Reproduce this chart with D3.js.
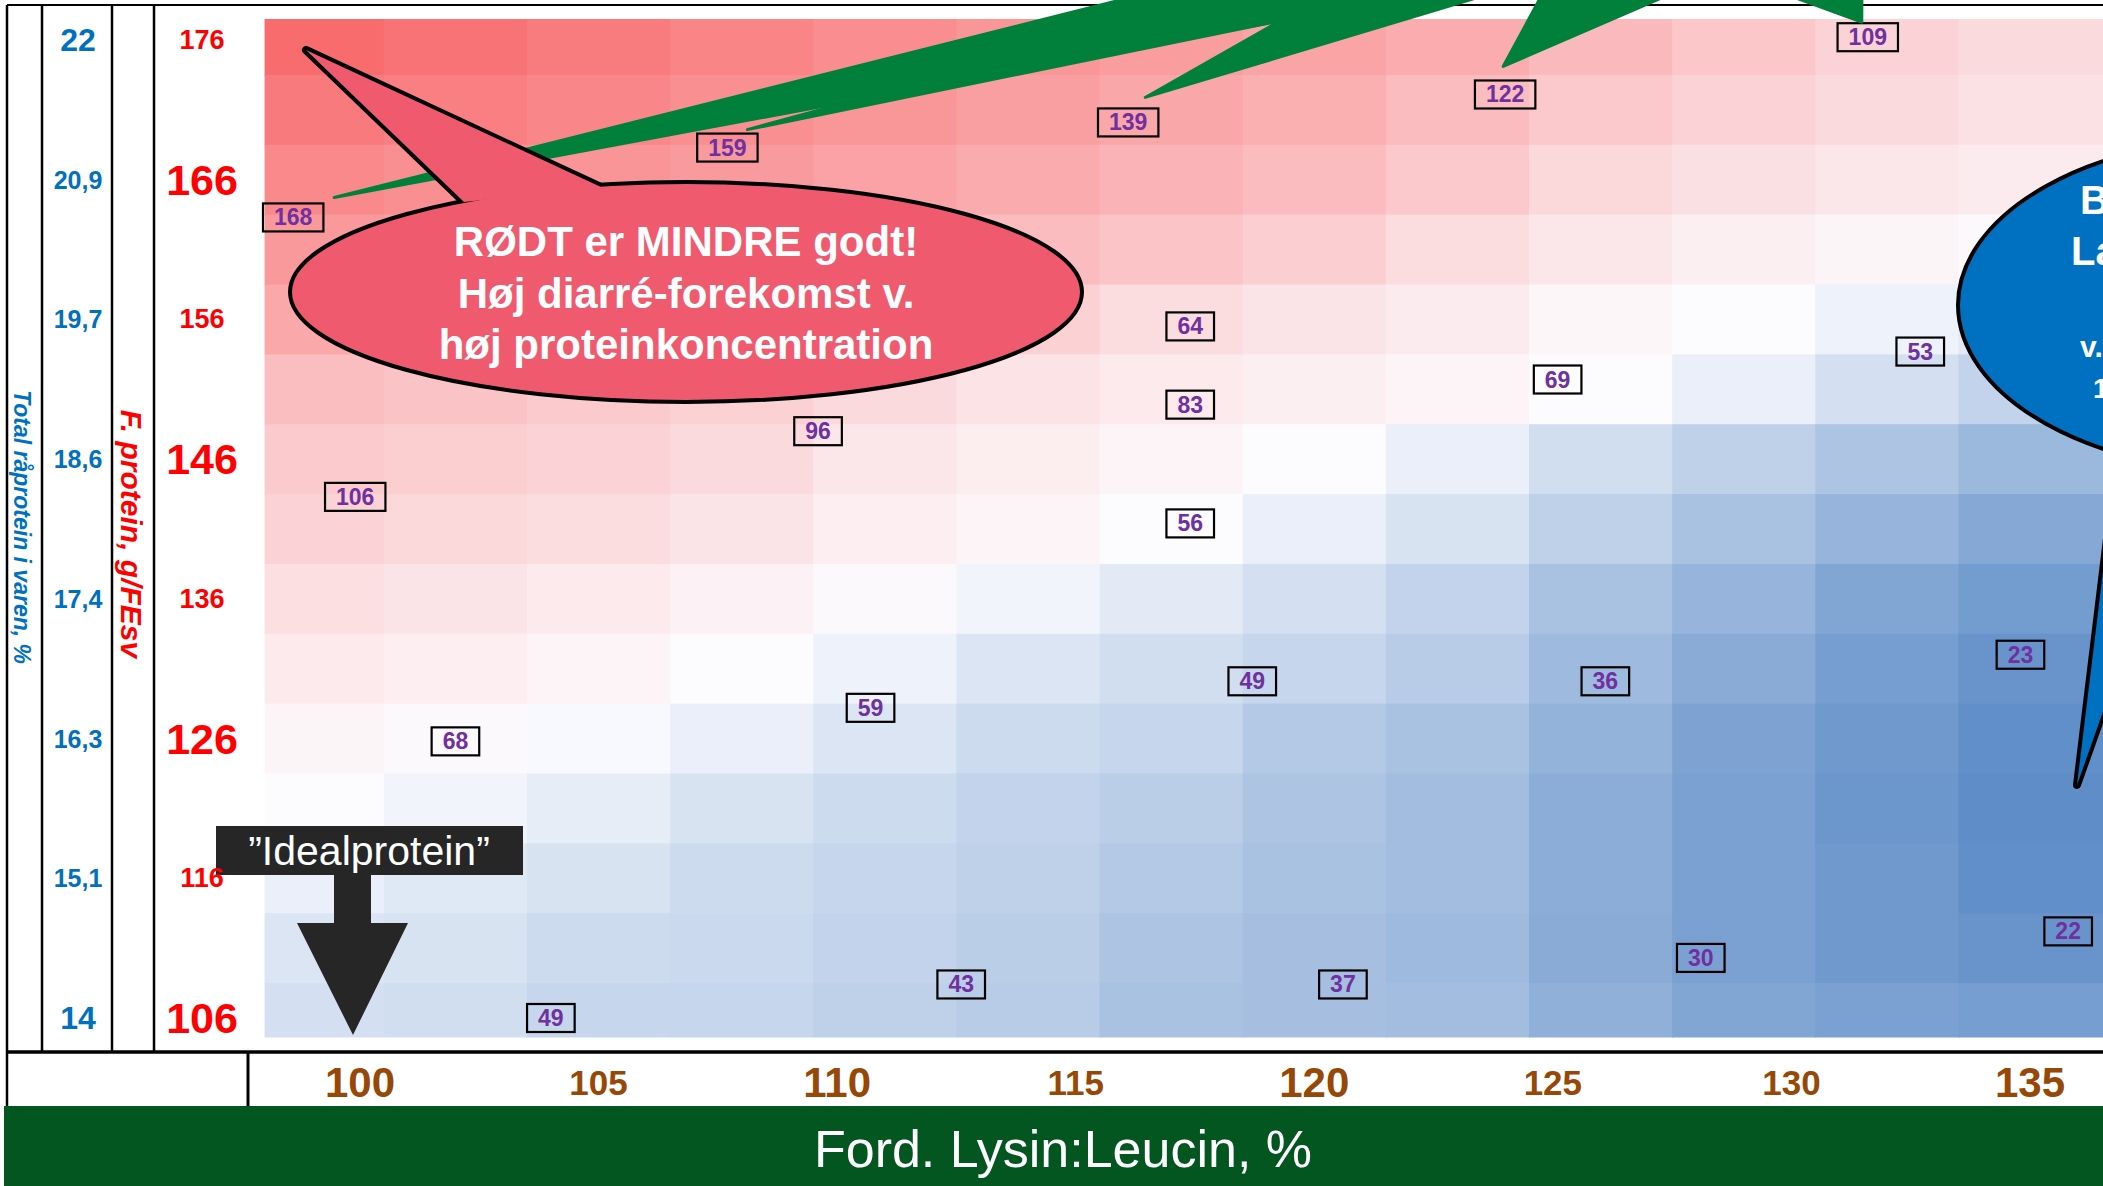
<!DOCTYPE html>
<html lang="da">
<head>
    <meta charset="UTF-8">
    <title>Diarré-forekomst: Lysin:Leucin vs. F. protein</title>
    <script src="https://cdnjs.cloudflare.com/ajax/libs/d3/7.8.5/d3.min.js"></script>
    <style>
        body { margin: 0; padding: 0; background: #fff; }
        svg { display: block; font-family: "Liberation Sans", Arial, Helvetica, sans-serif; }
    </style>
</head>
<body>
    <div id="chart"></div>
    <script>
        // x axis: Ford. Lysin:Leucin, %
        const lysTicks = [100, 105, 110, 115, 120, 125, 130, 135];
        const lysBigTicks = [100, 110, 120, 135];

        // y axes: F. protein (g/FEsv) and total raw protein (%)
        const protTicks = [176, 166, 156, 146, 136, 126, 116, 106];
        const protBigTicks = [166, 146, 126, 106];
        const rawProtLabels = ["22", "20,9", "19,7", "18,6", "17,4", "16,3", "15,1", "14"];
        const rawProtBig = ["22", "14"];

        // background grid (colour scale values)
        const heatLys = [99, 102, 105, 108, 111, 114, 117, 120, 123, 126, 129, 132, 135];
        const heatProt = [176, 171, 166, 161, 156, 151, 146, 141, 136, 131, 126, 121, 116, 111, 106];
        const heatValues = [
            [168, 163, 157, 150, 144, 138, 133, 128, 122, 112, 103, 95, 89],
            [158, 154, 149, 143, 138, 132, 126, 120, 111, 102, 95, 89, 84],
            [147, 143, 139, 134, 129, 123, 117, 111, 102, 91, 85, 80, 77],
            [136, 132, 128, 123, 117, 111, 104, 97, 88, 80, 74, 70, 67],
            [125, 121, 116, 111, 104, 96, 88, 82, 77, 69, 65, 61, 58],
            [110, 106, 101, 96, 89, 83, 78, 74, 71, 65, 60, 54, 49],
            [101, 98, 95, 89, 80, 76, 71, 66, 60, 53, 48, 43, 38],
            [95, 91, 88, 82, 75, 71, 65, 60, 55, 48, 42, 37, 32],
            [86, 82, 78, 73, 67, 62, 58, 54, 49, 42, 37, 31, 27],
            [78, 75, 71, 66, 61, 56, 53, 50, 46, 39, 33, 28, 24],
            [70, 67, 64, 60, 56, 52, 50, 45, 42, 36, 30, 26, 22],
            [65, 62, 59, 55, 52, 49, 47, 43, 40, 34, 29, 25, 21],
            [60, 57, 55, 52, 50, 48, 45, 42, 40, 34, 29, 26, 22],
            [56, 55, 52, 51, 49, 47, 43, 41, 39, 33, 29, 26, 24],
            [54, 53, 50, 50, 48, 46, 42, 41, 40, 35, 31, 29, 28]
        ];

        // observed values in boxes
        const pointLys = [98.6, 107.7, 116.1, 124.0, 131.6, 117.4, 117.4, 117.4, 109.6, 99.9, 125.1,
                          132.7, 102.0, 110.7, 118.7, 126.1, 134.8, 104.0, 112.6, 120.6, 128.1, 135.8];
        const pointProt = [163.3, 168.3, 170.1, 172.1, 176.2, 155.5, 149.9, 141.4, 148.0, 143.3, 151.7,
                           153.7, 125.8, 128.2, 130.1, 130.1, 132.0, 106.0, 108.4, 108.4, 110.3, 112.2];
        const pointValue = [168, 159, 139, 122, 109, 64, 83, 56, 96, 106, 69,
                            53, 68, 59, 49, 36, 23, 49, 43, 37, 30, 22];

        const width = 2103;
        const height = 1186;

        const svg = d3.select("#chart")
            .append("svg")
            .attr("width", width)
            .attr("height", height);

        const x = d3.scaleLinear().domain([100, 135]).range([360, 2030]);
        const y = d3.scaleLinear().domain([106, 176]).range([1018, 40]);
        const color = d3.scaleLinear()
            .domain([20, 65, 170])
            .range(["#5A8AC6", "#FCFCFF", "#F8696B"])
            .clamp(true);

        // heatmap area
        const hmLeft = x(98), hmTop = y(177.5), hmBottom = y(104.6);
        svg.append("clipPath").attr("id", "hm-clip")
            .append("rect")
            .attr("x", hmLeft).attr("y", hmTop)
            .attr("width", width - hmLeft).attr("height", hmBottom - hmTop);

        const cells = [];
        heatProt.forEach((p, i) => heatLys.forEach((l, j) => cells.push({ l, p, v: heatValues[i][j], last: j === heatLys.length - 1 })));

        svg.append("g")
            .attr("clip-path", "url(#hm-clip)")
            .selectAll("rect")
            .data(cells)
            .join("rect")
            .attr("x", d => x(d.l - 1.5))
            .attr("y", d => y(d.p + 2.5))
            .attr("width", d => (d.last ? width : x(d.l + 1.5)) - x(d.l - 1.5) + 1)
            .attr("height", d => y(d.p - 2.5) - y(d.p + 2.5) + 1)
            .attr("fill", d => color(d.v));

        // table frame
        const frame = svg.append("g").attr("stroke", "#000");
        frame.append("line").attr("x1", 7).attr("x2", width).attr("y1", 5).attr("y2", 5).attr("stroke-width", 2);
        [7, 42, 112, 154].forEach(v => {
            frame.append("line").attr("x1", v).attr("x2", v).attr("y1", 5).attr("y2", 1052).attr("stroke-width", 2.5);
        });
        frame.append("line").attr("x1", 7).attr("x2", width).attr("y1", 1052).attr("y2", 1052).attr("stroke-width", 3.5);
        frame.append("line").attr("x1", 7).attr("x2", 7).attr("y1", 1052).attr("y2", 1106).attr("stroke-width", 2.5);
        frame.append("line").attr("x1", 248).attr("x2", 248).attr("y1", 1052).attr("y2", 1106).attr("stroke-width", 3);

        // green title band
        svg.append("rect")
            .attr("x", 4).attr("y", 1106)
            .attr("width", width - 4).attr("height", height - 1106)
            .attr("fill", "#03561F");
        svg.append("text")
            .attr("x", 1063).attr("y", 1167)
            .attr("text-anchor", "middle")
            .attr("fill", "#fff")
            .attr("font-size", 52)
            .text("Ford. Lysin:Leucin, %");

        // "Idealprotein" marker at Lys:Leu 100 (under the tick labels)
        const ideal = svg.append("g");
        ideal.append("rect").attr("x", 216).attr("y", 826).attr("width", 307).attr("height", 49).attr("fill", "#262626");
        ideal.append("text")
            .attr("x", 369).attr("y", 865)
            .attr("text-anchor", "middle")
            .attr("fill", "#fff")
            .attr("font-size", 41)
            .text("”Idealprotein”");
        ideal.append("path")
            .attr("d", "M334,874L371,874L371,923L408,923L353,1035L297,923L334,923Z")
            .attr("fill", "#262626");

        // y tick labels
        svg.append("g").selectAll("text")
            .data(protTicks)
            .join("text")
            .attr("x", 202)
            .attr("y", d => y(d))
            .attr("text-anchor", "middle")
            .attr("dominant-baseline", "central")
            .attr("fill", "#FF0000")
            .attr("font-weight", "bold")
            .attr("font-size", d => protBigTicks.includes(d) ? 43 : 27)
            .text(d => d);

        svg.append("g").selectAll("text")
            .data(rawProtLabels)
            .join("text")
            .attr("x", 78)
            .attr("y", (d, i) => y(protTicks[i]))
            .attr("text-anchor", "middle")
            .attr("dominant-baseline", "central")
            .attr("fill", "#0070C0")
            .attr("font-weight", "bold")
            .attr("font-size", d => rawProtBig.includes(d) ? 32 : 25)
            .text(d => d);

        // axis titles (rotated)
        svg.append("text")
            .attr("transform", "translate(22,527) rotate(90)")
            .attr("text-anchor", "middle")
            .attr("dominant-baseline", "central")
            .attr("fill", "#0070C0")
            .attr("font-weight", "bold")
            .attr("font-style", "italic")
            .attr("font-size", 23)
            .text("Total råprotein i varen, %");

        svg.append("text")
            .attr("transform", "translate(131,534) rotate(90)")
            .attr("text-anchor", "middle")
            .attr("dominant-baseline", "central")
            .attr("fill", "#FF0000")
            .attr("font-weight", "bold")
            .attr("font-style", "italic")
            .attr("font-size", 30)
            .text("F. protein, g/FEsv");

        // x tick labels
        svg.append("g").selectAll("text")
            .data(lysTicks)
            .join("text")
            .attr("x", d => x(d))
            .attr("y", 1082)
            .attr("text-anchor", "middle")
            .attr("dominant-baseline", "central")
            .attr("fill", "#974706")
            .attr("font-weight", "bold")
            .attr("font-size", d => lysBigTicks.includes(d) ? 42 : 35)
            .text(d => d);

        // boxed values
        const pts = pointValue.map((v, i) => ({ v, l: pointLys[i], p: pointProt[i] }));
        const halfW = d => String(d.v).length * 6.4 + 11;
        const box = svg.append("g").selectAll("g")
            .data(pts)
            .join("g")
            .attr("transform", d => `translate(${x(d.l)},${y(d.p)})`);
        box.append("rect")
            .attr("x", d => -halfW(d))
            .attr("y", -14)
            .attr("width", d => 2 * halfW(d))
            .attr("height", 28)
            .attr("fill", "none")
            .attr("stroke", "#000")
            .attr("stroke-width", 2.2);
        box.append("text")
            .attr("text-anchor", "middle")
            .attr("dominant-baseline", "central")
            .attr("fill", "#7030A0")
            .attr("font-weight", "bold")
            .attr("font-size", 23)
            .text(d => d.v);

        // green spikes from an off-picture callout to the top values
        const spikes = [
            { i: 0, dx: 41, dy: -20, base: [1200, 1500] },
            { i: 1, dx: 20, dy: -18, base: [1300, 1480] },
            { i: 2, dx: 17, dy: -25, base: [1352, 1536] },
            { i: 3, dx: -2, dy: -28, base: [1550, 1703] },
            { i: 4, dx: -6, dy: -15, base: [1747, 1862] }
        ];
        svg.append("g").selectAll("path")
            .data(spikes)
            .join("path")
            .attr("d", s => {
                const tx = x(pointLys[s.i]) + s.dx, ty = y(pointProt[s.i]) + s.dy;
                return `M${tx},${ty}L${s.base[0]},-20L${s.base[1]},-20Z`;
            })
            .attr("fill", "#00803A")
            .attr("stroke", "#00803A")
            .attr("stroke-width", 3)
            .attr("stroke-linejoin", "round");

        // red speech bubble
        const redTail = "M464,202L306,50L603,188Z";
        const red = svg.append("g");
        red.append("path").attr("d", redTail).attr("fill", "#EF5A6F").attr("stroke", "#000").attr("stroke-width", 8).attr("stroke-linejoin", "round");
        red.append("ellipse").attr("cx", 686).attr("cy", 292).attr("rx", 396).attr("ry", 110)
            .attr("fill", "#EF5A6F").attr("stroke", "#000").attr("stroke-width", 4);
        red.append("path").attr("d", redTail).attr("fill", "#EF5A6F");
        red.selectAll("text")
            .data(["RØDT er MINDRE godt!", "Høj diarré-forekomst v.", "høj proteinkoncentration"])
            .join("text")
            .attr("x", 686)
            .attr("y", (d, i) => 256 + i * 51.5)
            .attr("text-anchor", "middle")
            .attr("fill", "#fff")
            .attr("font-weight", "bold")
            .attr("font-size", 42)
            .text(d => d);

        // blue speech bubble (cut by the right edge, as in the original)
        const blueTail = "M2119,440L2077,785L2192,460Z";
        const blue = svg.append("g");
        blue.append("path").attr("d", blueTail).attr("fill", "#0070C0").attr("stroke", "#000").attr("stroke-width", 8).attr("stroke-linejoin", "round");
        blue.append("ellipse").attr("cx", 2258).attr("cy", 305).attr("rx", 300).attr("ry", 168)
            .attr("fill", "#0070C0").attr("stroke", "#000").attr("stroke-width", 4);
        blue.append("path").attr("d", blueTail).attr("fill", "#0070C0");
        const blueText = [
            { t: "B", x: 2080, y: 214, s: 40 },
            { t: "La", x: 2071, y: 265, s: 40 },
            { t: "v.", x: 2080, y: 357, s: 30 },
            { t: "1", x: 2093, y: 398, s: 28 }
        ];
        blue.selectAll("text")
            .data(blueText)
            .join("text")
            .attr("x", d => d.x).attr("y", d => d.y)
            .attr("fill", "#fff")
            .attr("font-weight", "bold")
            .attr("font-size", d => d.s)
            .text(d => d.t);
    </script>
</body>
</html>
